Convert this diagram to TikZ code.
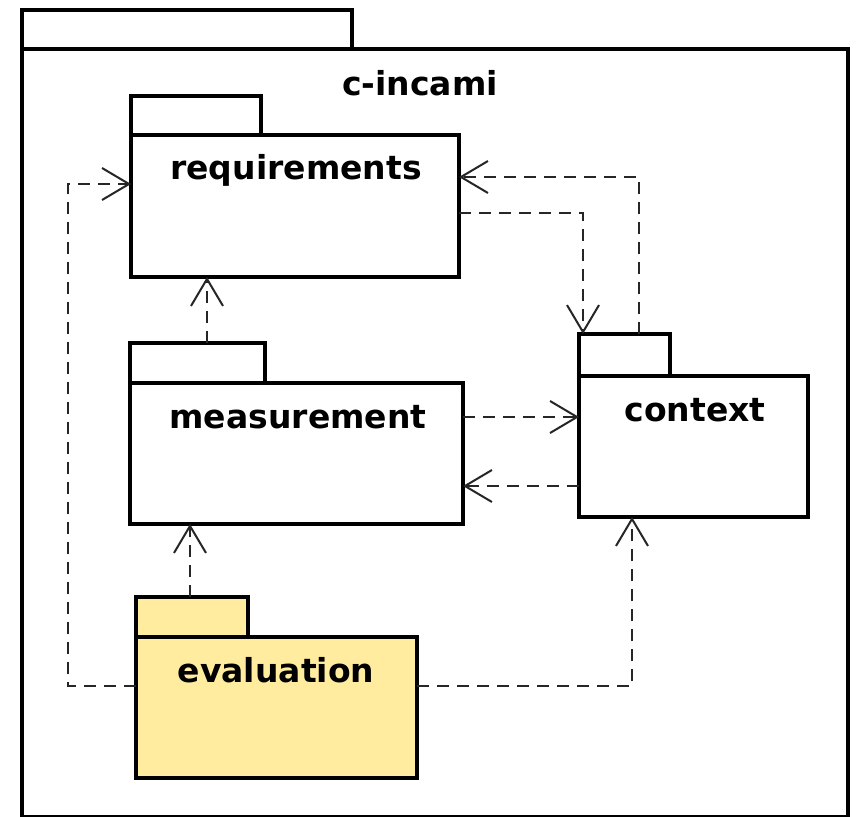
\documentclass[tikz,border=0pt]{standalone}
\usepackage{fontspec}
\setmainfont{DejaVu Sans}
\usetikzlibrary{arrows.meta}
\definecolor{pkgyellow}{RGB}{255,236,158}
\begin{document}
\begin{tikzpicture}[x=1pt,y=-1pt,
  pkg/.style={draw=black,line width=4.5pt,rectangle,anchor=north west,inner sep=0pt,outer sep=0pt,fill=white},
  lbl/.style={font=\fontsize{33}{40}\selectfont\bfseries,inner sep=0pt,text=black},
  dep/.style={draw=black!85,line width=2pt,dash pattern=on 12pt off 8pt,-{Straight Barb[length=27pt,width=32pt,line width=2pt]}}]
\useasboundingbox (0,0) rectangle (856,816);
% outer package
\node[pkg,minimum width=330pt,minimum height=39pt] (outT) at (22,10) {};
\node[pkg,minimum width=826pt,minimum height=768.5pt] (outB) at (22,49) {};
\node[lbl] (outL) at (420,83) {c-incami};
% requirements
\node[pkg,minimum width=130pt,minimum height=39pt] (reqT) at (131,96) {};
\node[pkg,minimum width=328pt,minimum height=142pt] (reqB) at (131,135) {};
\node[lbl] (reqL) at (296,170) {requirements};
% measurement
\node[pkg,minimum width=135pt,minimum height=40pt] (meaT) at (130,343) {};
\node[pkg,minimum width=333pt,minimum height=141pt] (meaB) at (130,383) {};
\node[lbl] (meaL) at (298,417) {measurement};
% context
\node[pkg,minimum width=91pt,minimum height=42pt] (ctxT) at (579,334) {};
\node[pkg,minimum width=229pt,minimum height=141pt] (ctxB) at (579,376) {};
\node[lbl] (ctxL) at (695,410) {context};
% evaluation
\node[pkg,fill=pkgyellow,minimum width=112pt,minimum height=40pt] (evaT) at (136,597) {};
\node[pkg,fill=pkgyellow,minimum width=281pt,minimum height=141pt] (evaB) at (136,637) {};
\node[lbl] (evaL) at (276,670) {evaluation};
% helper coordinates
\coordinate (c1) at (207,0);
\coordinate (c2) at (190,0);
\coordinate (c3) at (68,686);
\coordinate (c4) at (632,686);
\coordinate (c5) at (583,213);
\coordinate (c6) at (639,177);
\coordinate (y184) at (0,184);
\coordinate (y417) at (0,417);
\coordinate (y486) at (0,486);
% dependencies
\draw[dep] (meaT.north -| c1) -- (reqB.south -| c1);
\draw[dep] (evaT.north -| c2) -- (meaB.south -| c2);
\draw[dep] (evaB.west |- c3) -- (c3) -- (c3 |- y184) -- (reqB.west |- y184);
\draw[dep] (evaB.east |- c4) -- (c4) -- (ctxB.south -| c4);
\draw[dep] (reqB.east |- c5) -- (c5) -- (ctxT.north -| c5);
\draw[dep] (ctxT.north -| c6) -- (c6) -- (reqB.east |- c6);
\draw[dep] (meaB.east |- y417) -- (ctxB.west |- y417);
\draw[dep] (ctxB.west |- y486) -- (meaB.east |- y486);
\end{tikzpicture}
\end{document}
